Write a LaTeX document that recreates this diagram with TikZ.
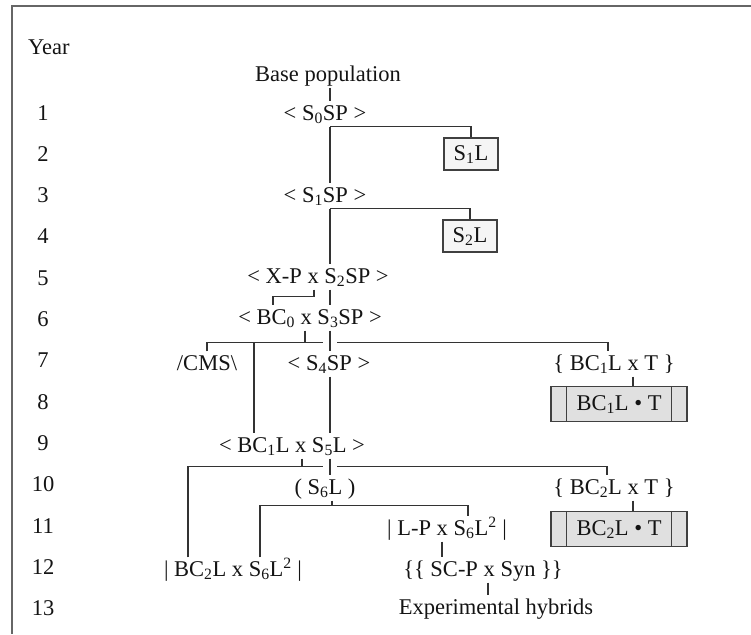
\documentclass[tikz,border=0pt]{standalone}
\usepackage{fontspec}
\setmainfont{Liberation Serif}
\usetikzlibrary{positioning,calc}

\begin{document}
\begin{tikzpicture}[x=1pt,y=-1pt,
  lbl/.style={inner xsep=1pt,inner ysep=3.5pt,text height=15pt,text depth=3pt,
    font=\fontsize{22.5}{26}\selectfont,text=black!92},
  lbox/.style={lbl,draw=black!75,line width=1.4pt,fill=black!4,
    minimum width=54pt,minimum height=32pt,inner ysep=0pt},
  tbox/.style={lbox,fill=black!12,minimum width=136pt,minimum height=35pt},
  link/.style={draw=black!80,line width=1.3pt}]
  \useasboundingbox (0,0) rectangle (751,634);
  \draw[black!60,line width=1.5pt] (751,6) -- (12,6) -- (12,634);
  % year column
  \node[lbl,anchor=west] (year) at (27,48) {Year};
  \foreach \k in {1,...,13} {\node[lbl] (y\k) at (43,{114+(\k-1)*41.3}) {\k};}
  % scheme
  \node[lbl] (base) at (328,75) {Base population};
  \node[lbl] (s0) at (325,114) {< S\textsubscript{0}SP >};
  \node[lbox] (s1l) at (471,154) {S\textsubscript{1}L};
  \node[lbl] (s1) at (325,196) {< S\textsubscript{1}SP >};
  \node[lbox] (s2l) at (470,236) {S\textsubscript{2}L};
  \node[lbl] (xp) at (318,277) {< X-P x S\textsubscript{2}SP >};
  \node[lbl] (bc0) at (310,318) {< BC\textsubscript{0} x S\textsubscript{3}SP >};
  \node[lbl] (cms) at (207,364) {/CMS\textbackslash};
  \node[lbl] (s4) at (329,364) {< S\textsubscript{4}SP >};
  \node[lbl] (bc1t) at (614,364) {\{ BC\textsubscript{1}L x T \}};
  \node[tbox] (bc1b) at (619,404) {BC\textsubscript{1}L \textbullet\ T};
  \node[lbl] (bc1s5) at (292,446) {< BC\textsubscript{1}L x S\textsubscript{5}L >};
  \node[lbl] (s6) at (325,488) {( S\textsubscript{6}L )};
  \node[lbl] (bc2t) at (614,488) {\{ BC\textsubscript{2}L x T \}};
  \node[tbox] (bc2b) at (619,529) {BC\textsubscript{2}L \textbullet\ T};
  \node[lbl] (lp) at (447,529) {| L-P x S\textsubscript{6}L\textsuperscript{2} |};
  \node[lbl] (bc2s6) at (233,570) {| BC\textsubscript{2}L x S\textsubscript{6}L\textsuperscript{2} |};
  \node[lbl] (sc) at (483,570) {\{\{ SC-P x Syn \}\}};
  \node[lbl] (exp) at (496,608) {Experimental hybrids};
  \foreach \b in {bc1b,bc2b} {
    \draw[black!75,line width=1.3pt] ([xshift=16pt]\b.north west) -- ([xshift=16pt]\b.south west)
      ([xshift=-16pt]\b.north east) -- ([xshift=-16pt]\b.south east);}
  % main trunk
  \coordinate (tr) at (330,0);
  \draw[link] (base.south -| tr) -- (s0.north -| tr);
  \draw[link] (s0.south -| tr) -- (s1.north -| tr);
  \draw[link] (s0.south -| tr) -| (s1l.north);
  \draw[link] (s1.south -| tr) -- (xp.north -| tr);
  \draw[link] (s1.south -| tr) -| (s2l.north);
  \draw[link] (xp.south -| tr) -- (bc0.north -| tr);
  \draw[link] ([xshift=-4pt]xp.south) -- ++(0,7) -| ([xshift=-37pt]bc0.north);
  \draw[link] (bc0.south -| tr) -- (s4.north -| tr);
  \draw[link] (s4.south -| tr) -- (bc1s5.north -| tr);
  \draw[link] (bc1s5.south -| tr) -- (s6.north -| tr);
  % year 6-7 branches
  \draw[link] ([xshift=-5pt]bc0.south) -- ++(0,12) coordinate (j6);
  \path (j6 -| tr) ++(-7,0) coordinate (g6l) ++(14,0) coordinate (g6r);
  \path (j6) ++(-51,0) coordinate (k6);
  \draw[link] (cms.north) |- (g6l);
  \draw[link] (k6) -- (k6 |- bc1s5.north);
  \draw[link] (g6r) -| ([xshift=-6pt]bc1t.north);
  \coordinate (c7) at ([xshift=19pt]bc1t.south);
  \draw[link] (c7) -- (c7 |- bc1b.north);
  % year 9-10 branches
  \draw[link] ([xshift=10pt]bc1s5.south) -- ++(0,8) coordinate (j9);
  \path (j9 -| tr) ++(-7,0) coordinate (g9l) ++(14,0) coordinate (g9r);
  \coordinate (c9) at ([xshift=-45pt]bc2s6.north);
  \draw[link] (c9) |- (g9l);
  \draw[link] (g9r) -| ([xshift=-7pt]bc2t.north);
  \coordinate (c10) at ([xshift=19pt]bc2t.south);
  \draw[link] (c10) -- (c10 |- bc2b.north);
  % year 10-13
  \draw[link] ([xshift=7pt]s6.south) -- ++(0,5) coordinate (j10);
  \draw[link] ([xshift=27pt]bc2s6.north) |- (j10) -| ([xshift=21pt]lp.north);
  \coordinate (c11) at ([xshift=-5pt]lp.south);
  \draw[link] (c11) -- (c11 |- sc.north);
  \coordinate (c12) at ([xshift=5pt]sc.south);
  \draw[link] (c12) -- (c12 |- exp.north);
\end{tikzpicture}
\end{document}
